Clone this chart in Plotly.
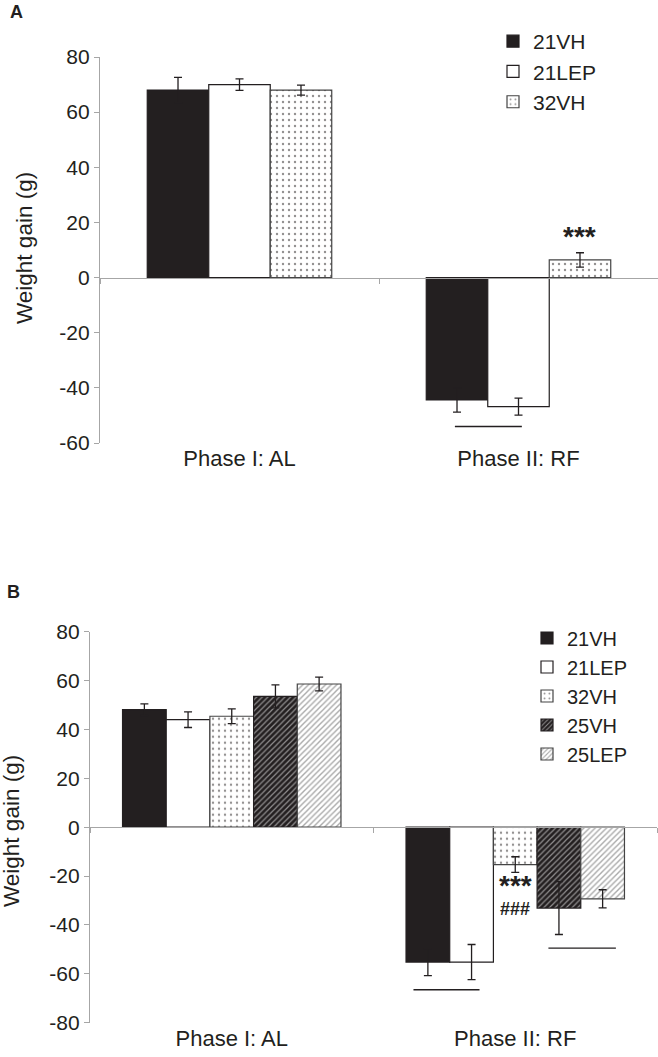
import plotly.graph_objects as go

# ---------------- data ----------------
categories = ["Phase I: AL", "Phase II: RF"]
cat_pos = [0, 1]

# Panel A
a_groups = ["21VH", "21LEP", "32VH"]
a_21VH = [68.0, -44.4]
a_21VH_err = [4.6, 4.4]
a_21LEP = [70.0, -46.8]
a_21LEP_err = [2.1, 3.1]
a_32VH = [68.0, 6.4]
a_32VH_err = [1.8, 2.6]

# Panel B
b_groups = ["21VH", "21LEP", "32VH", "25VH", "25LEP"]
b_21VH = [48.1, -55.2]
b_21VH_err = [2.4, 5.5]
b_21LEP = [44.0, -55.2]
b_21LEP_err = [3.2, 7.2]
b_32VH = [45.4, -15.3]
b_32VH_err = [3.0, 3.2]
b_25VH = [53.5, -33.1]
b_25VH_err = [4.7, 10.8]
b_25LEP = [58.6, -29.3]
b_25LEP_err = [2.8, 3.7]

a_ticks = [-60, -40, -20, 0, 20, 40, 60, 80]
b_ticks = [-80, -60, -40, -20, 0, 20, 40, 60, 80]

# significance lines (x0, x1 in category units, y in data units)
a_sig_lines = [(0.772, 1.012, -54)]
b_sig_lines = [(0.641, 0.874, -66.5), (1.117, 1.355, -49.5)]

# ---------------- style ----------------
INK = "#231f20"
AXIS = "#a6a6a6"
FONT = "Liberation Sans, Arial, sans-serif"

styles = {
    "21VH": dict(color=INK, line=dict(color=INK, width=1.2)),
    "21LEP": dict(color="white", line=dict(color=INK, width=1.2)),
    "32VH": dict(color="white", line=dict(color="#444", width=1.2),
                 pattern=dict(shape=".", fgcolor=INK, bgcolor="white", size=6, solidity=0.12)),
    "25VH": dict(color=INK, line=dict(color=INK, width=1.2),
                 pattern=dict(shape="/", fgcolor="white", bgcolor=INK, size=4, solidity=0.3)),
    "25LEP": dict(color="white", line=dict(color="#444", width=1.2),
                  pattern=dict(shape="/", fgcolor="#555", bgcolor="white", size=4, solidity=0.35)),
}

W, H = 658, 1057


def px(xp):
    return xp / W


def py(yp):
    return 1 - yp / H


A_dom_x = [px(100), px(658)]
A_dom_y = [py(443), py(57)]
B_dom_x = [px(90), px(657)]
B_dom_y = [py(1022.7), py(631.7)]
A_range = [-60, 80]
B_range = [-80, 80]


def zero_pos(dom, rng):
    return dom[0] + (0 - rng[0]) / (rng[1] - rng[0]) * (dom[1] - dom[0])


fig = go.Figure()

a_vals = [a_21VH, a_21LEP, a_32VH]
a_errs = [a_21VH_err, a_21LEP_err, a_32VH_err]
wA = 0.2204
for i, (g, v, e) in enumerate(zip(a_groups, a_vals, a_errs)):
    fig.add_trace(go.Bar(
        x=cat_pos, y=v, name=g, width=wA, offset=-1.5 * wA + i * wA,
        marker=styles[g],
        error_y=dict(type="data", array=e, color=INK, thickness=1.3, width=4),
        xaxis="x", yaxis="y", legend="legend", legendgroup="a" + g,
    ))

b_vals = [b_21VH, b_21LEP, b_32VH, b_25VH, b_25LEP]
b_errs = [b_21VH_err, b_21LEP_err, b_32VH_err, b_25VH_err, b_25LEP_err]
wB = 0.1541
for i, (g, v, e) in enumerate(zip(b_groups, b_vals, b_errs)):
    fig.add_trace(go.Bar(
        x=cat_pos, y=v, name=g, width=wB, offset=-2.5 * wB + i * wB,
        marker=styles[g],
        error_y=dict(type="data", array=e, color=INK, thickness=1.3, width=4),
        xaxis="x2", yaxis="y2", legend="legend2", legendgroup="b" + g,
    ))

# empty carrier traces so the category-label axes are drawn
for xa, ya in (("x3", "y"), ("x4", "y2")):
    fig.add_trace(go.Scatter(x=cat_pos, y=[None, None], xaxis=xa, yaxis=ya,
                             showlegend=False, hoverinfo="skip", mode="markers"))

tickfont = dict(family=FONT, size=21, color=INK)
catfont = dict(family=FONT, size=22, color=INK)

common_zero_x = dict(range=[-0.5, 1.5], anchor="free", showline=True, linecolor=AXIS,
                     linewidth=1.3, ticks="outside", tickvals=[-0.5, 0.5, 1.5],
                     ticklen=5, tickcolor=AXIS, showticklabels=False, showgrid=False,
                     zeroline=False, fixedrange=True)
common_cat_x = dict(range=[-0.5, 1.5], showline=False, ticks="", tickvals=cat_pos,
                    ticktext=categories, tickfont=catfont, showgrid=False, zeroline=False)
common_y = dict(showline=True, linecolor=AXIS, linewidth=1.3, ticks="outside", ticklen=5,
                tickcolor=AXIS, tickfont=tickfont, showgrid=False, zeroline=False)

fig.update_layout(
    width=W, height=H, margin=dict(l=0, r=0, t=0, b=0, autoexpand=False),
    paper_bgcolor="white", plot_bgcolor="white",
    barmode="overlay",
    xaxis=dict(domain=A_dom_x, position=zero_pos(A_dom_y, A_range), **common_zero_x),
    xaxis3=dict(overlaying="x", anchor="y", side="bottom", **common_cat_x),
    yaxis=dict(domain=A_dom_y, anchor="x", range=A_range, tickvals=a_ticks,
               ticktext=[str(t) for t in a_ticks], **common_y),
    xaxis2=dict(domain=B_dom_x, position=zero_pos(B_dom_y, B_range), **common_zero_x),
    xaxis4=dict(overlaying="x2", anchor="y2", side="bottom", **common_cat_x),
    yaxis2=dict(domain=B_dom_y, anchor="x2", range=B_range, tickvals=b_ticks,
                ticktext=[str(t) for t in b_ticks], **common_y),
    legend=dict(x=px(493), y=py(21), xanchor="left", yanchor="top",
                font=dict(family=FONT, size=21, color=INK), bgcolor="rgba(0,0,0,0)",
                itemwidth=30, tracegroupgap=0, traceorder="normal"),
    legend2=dict(x=px(527), y=py(618.5), xanchor="left", yanchor="top",
                 font=dict(family=FONT, size=20, color=INK), bgcolor="rgba(0,0,0,0)",
                 itemwidth=30, tracegroupgap=0, traceorder="normal"),
    showlegend=True,
)

# significance lines
for (x0, x1, y) in a_sig_lines:
    fig.add_shape(type="line", xref="x", yref="y", x0=x0, x1=x1, y0=y, y1=y,
                  line=dict(color=INK, width=1.4))
for (x0, x1, y) in b_sig_lines:
    fig.add_shape(type="line", xref="x2", yref="y2", x0=x0, x1=x1, y0=y, y1=y,
                  line=dict(color=INK, width=1.4))

# significance marks
fig.add_annotation(x=1 + wA, y=15, xref="x", yref="y",
                   text="<b>***</b>", showarrow=False,
                   font=dict(family=FONT, size=28, color=INK))
fig.add_annotation(x=1, y=-24, xref="x2", yref="y2", text="<b>***</b>",
                   showarrow=False, font=dict(family=FONT, size=28, color=INK))
fig.add_annotation(x=1, y=-33.5, xref="x2", yref="y2", text="<b>###</b>",
                   showarrow=False, font=dict(family=FONT, size=18, color=INK))

# y titles
fig.add_annotation(x=px(24), y=py(248), xref="paper", yref="paper",
                   text="Weight gain (g)", textangle=-90, showarrow=False,
                   xanchor="center", yanchor="middle",
                   font=dict(family=FONT, size=22.5, color=INK))
fig.add_annotation(x=px(11), y=py(831), xref="paper", yref="paper",
                   text="Weight gain (g)", textangle=-90, showarrow=False,
                   xanchor="center", yanchor="middle",
                   font=dict(family=FONT, size=22.5, color=INK))

# panel labels
fig.add_annotation(x=px(8), y=py(12), xref="paper", yref="paper", text="<b>A</b>",
                   showarrow=False, xanchor="left", yanchor="middle",
                   font=dict(family=FONT, size=18, color=INK))
fig.add_annotation(x=px(5), y=py(592), xref="paper", yref="paper", text="<b>B</b>",
                   showarrow=False, xanchor="left", yanchor="middle",
                   font=dict(family=FONT, size=18, color=INK))

# remove the default page margin so the figure fills the window exactly
fig.write_html("out.html", config={"displayModeBar": False},
               post_script="document.body.style.margin='0';document.body.style.overflow='hidden';")
